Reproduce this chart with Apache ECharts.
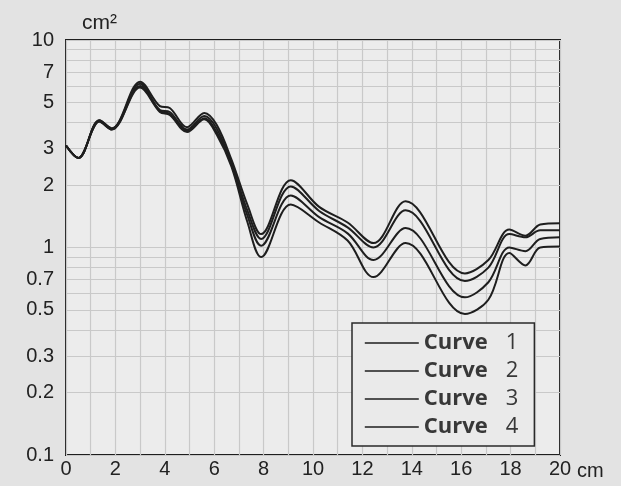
<!DOCTYPE html>
<html>
<head>
<meta charset="utf-8">
<script src="https://cdn.jsdelivr.net/npm/echarts@6/dist/echarts.min.js"></script>
<style>
  html, body { margin: 0; padding: 0; background: #e3e3e3; }
  #chart { width: 621px; height: 486px; }
</style>
</head>
<body>
<div id="chart"></div>
<script>
// positions along the axis (cm)
const xs = [0, 0.5, 1.35, 1.85, 3.0, 3.8, 4.2, 4.9, 5.6, 6.1, 6.7, 7.35, 7.9, 9.1, 10.25, 11.4, 12.45, 13.75, 16.15, 17.1, 17.95, 18.6, 19.2, 20]

// area values (cm²)
const curve1 = [3.1, 2.7, 4.1, 3.75, 6.3, 4.8, 4.7, 3.8, 4.45, 3.9, 2.65, 1.6, 1.16, 2.11, 1.57, 1.32, 1.05, 1.67, 0.75, 0.87, 1.22, 1.14, 1.29, 1.31]
const curve2 = [3.1, 2.7, 4.1, 3.75, 6.15, 4.6, 4.5, 3.7, 4.3, 3.75, 2.55, 1.5, 1.10, 1.97, 1.50, 1.25, 1.0, 1.51, 0.69, 0.8, 1.16, 1.12, 1.21, 1.21]
const curve3 = [3.1, 2.7, 4.05, 3.7, 6.0, 4.55, 4.4, 3.65, 4.2, 3.6, 2.5, 1.42, 1.02, 1.78, 1.40, 1.17, 0.87, 1.24, 0.575, 0.68, 1.0, 0.96, 1.10, 1.12]
const curve4 = [3.1, 2.7, 4.05, 3.7, 5.9, 4.5, 4.35, 3.6, 4.15, 3.5, 2.45, 1.32, 0.90, 1.61, 1.32, 1.08, 0.72, 1.05, 0.478, 0.56, 0.94, 0.82, 1.0, 1.01]

const curveNames = ['Curve 1', 'Curve 2', 'Curve 3', 'Curve 4']
const yLabels = [0.1, 0.2, 0.3, 0.5, 0.7, 1, 2, 3, 5, 7, 10]
const yGrid = [0.1, 0.2, 0.3, 0.4, 0.5, 0.6, 0.7, 0.8, 0.9, 1, 2, 3, 4, 5, 6, 7, 8, 9, 10]

const chart = echarts.init(document.getElementById('chart'))

const makeSeries = (name, vals) => ({
  name: name,
  type: 'line',
  smooth: 0.35,
  symbol: 'none',
  data: xs.map((x, i) => [x, vals[i]]),
  lineStyle: { color: '#1e1e1e', width: 2 },
  itemStyle: { color: '#1e1e1e' }
})

chart.setOption({
  backgroundColor: '#e3e3e3',
  animation: false,
  grid: {
    left: 66,
    right: 61,
    top: 40,
    bottom: 31,
    show: true,
    backgroundColor: '#ececec',
    borderColor: '#1e1e1e',
    borderWidth: 2
  },
  legend: {
    orient: 'vertical',
    left: 352,
    top: 323,
    padding: [9, 16, 8, 12],
    itemGap: 6,
    itemWidth: 54,
    itemHeight: 22,
    itemStyle: { opacity: 0 },
    lineStyle: { width: 1.6 },
    borderColor: '#2a2a2a',
    borderWidth: 1.5,
    backgroundColor: '#eaeaea',
    data: curveNames,
    formatter: name => '{b|Curve}{n|' + name.split(' ')[1] + '}',
    textStyle: {
      rich: {
        b: { fontFamily: 'Open Sans', fontWeight: 'bold', fontSize: 22, color: '#383838', width: 82 },
        n: { fontFamily: 'Open Sans', fontSize: 22, color: '#383838' }
      }
    }
  },
  xAxis: {
    type: 'value',
    min: 0,
    max: 20,
    interval: 2,
    name: 'cm',
    nameLocation: 'end',
    nameGap: 10,
    nameTextStyle: { fontFamily: 'Liberation Sans', fontSize: 20, color: '#222', verticalAlign: 'top', padding: [6, 0, 0, 0] },
    axisLine: { show: false },
    axisTick: { show: false },
    axisLabel: { fontFamily: 'Liberation Sans', fontSize: 20, color: '#222', margin: 4 },
    splitLine: { show: true, lineStyle: { color: '#c9c9c9', width: 1.2 } },
    minorTick: { show: false, splitNumber: 2 },
    minorSplitLine: { show: true, lineStyle: { color: '#c9c9c9', width: 1.2 } }
  },
  yAxis: {
    type: 'log',
    logBase: 10,
    min: 0.1,
    max: 10,
    name: 'cm²',
    nameLocation: 'end',
    nameGap: 6,
    nameTextStyle: { fontFamily: 'Liberation Sans', fontSize: 21, color: '#222', align: 'left', padding: [0, 0, 0, 16] },
    axisLine: { show: false },
    axisTick: { show: false, customValues: yGrid },
    axisLabel: {
      customValues: yLabels,
      fontFamily: 'Liberation Sans',
      fontSize: 20,
      color: '#222',
      margin: 12,
      formatter: v => String(v)
    },
    splitLine: { show: true, lineStyle: { color: '#c9c9c9', width: 1.2 } }
  },
  series: [
    makeSeries(curveNames[0], curve1),
    makeSeries(curveNames[1], curve2),
    makeSeries(curveNames[2], curve3),
    makeSeries(curveNames[3], curve4)
  ]
})
</script>
</body>
</html>
